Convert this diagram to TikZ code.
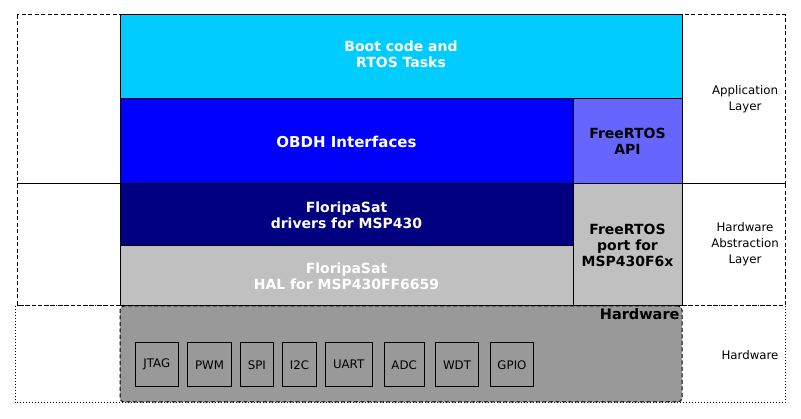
\documentclass[tikz,border=0pt]{standalone}
\usepackage{fontspec}
\setmainfont{DejaVu Sans}
\usetikzlibrary{positioning}

\definecolor{bootblue}{HTML}{00CCFF}
\definecolor{obdhblue}{HTML}{0000FF}
\definecolor{apiblue}{HTML}{6666FF}
\definecolor{drvnavy}{HTML}{000080}
\definecolor{halgray}{HTML}{C0C0C0}
\definecolor{hwgray}{HTML}{999999}

\begin{document}
\begin{tikzpicture}[x=1pt,y=-1pt,line width=1pt,
        longdash/.style={dash pattern=on 4pt off 2.5pt},
        block/.style={draw,anchor=north west,inner sep=0pt,outer sep=0pt,align=center,
          font=\bfseries\fontsize{14}{16}\selectfont},
        periph/.style={draw,fill=hwgray,minimum height=43.5pt,inner sep=0pt,outer sep=0pt,
          font=\fontsize{11.8}{13}\selectfont},
        layer/.style={align=center,font=\fontsize{11.8}{16}\selectfont}]

  \useasboundingbox (0,0) rectangle (801,419);

  % layer frames
  \draw[dotted] (15,306) rectangle (785,403);
  \draw[longdash] (17,15) rectangle (785,184);
  \draw[longdash] (17,184) rectangle (785,306);
  \draw (17,184) -- (785,184);

  % application layer
  \node[block,fill=bootblue,text=white,minimum width=562pt,minimum height=84pt,
    text depth=6pt] (boot) at (120,15) {Boot code and\\RTOS Tasks};
  \node[block,fill=obdhblue,text=white,minimum width=453pt,minimum height=85pt,
    font=\bfseries\fontsize{15}{17}\selectfont]
    (obdh) at (120,99) {OBDH Interfaces};
  \node[block,fill=apiblue,minimum width=109pt,minimum height=85pt]
    (api) at (573,99) {FreeRTOS\\API};

  % hardware abstraction layer
  \node[block,fill=drvnavy,text=white,minimum width=453pt,minimum height=62pt]
    (drv) at (120,184) {FloripaSat\\drivers for MSP430};
  \node[block,fill=halgray,text=white,minimum width=453pt,minimum height=60pt]
    (hal) at (120,246) {FloripaSat\\HAL for MSP430FF6659};
  \node[block,fill=halgray,minimum width=109pt,minimum height=122pt]
    (port) at (573,184) {FreeRTOS\\port for\\MSP430F6x};

  % hardware
  \node[block,fill=hwgray,longdash,rounded corners=4pt,minimum width=562pt,
    minimum height=96pt] (hw) at (120,306) {};
  \node[anchor=north east,inner sep=2pt,font=\bfseries\fontsize{14.5}{16}\selectfont]
    (hwtitle) at (hw.north east) {Hardware};

  \node[periph,anchor=north west,minimum width=43.7pt] (jtag) at (135,343) {JTAG};
  \node[periph,minimum width=44.4pt,right=8.6pt of jtag] (pwm) {PWM};
  \node[periph,minimum width=33.7pt,right=8.3pt of pwm] (spi) {SPI};
  \node[periph,minimum width=34.4pt,right=8.6pt of spi] (i2c) {I2C};
  \node[periph,minimum width=47.3pt,right=8.3pt of i2c] (uart) {UART};
  \node[periph,minimum width=40.3pt,right=11.7pt of uart] (adc) {ADC};
  \node[periph,minimum width=43.4pt,right=11pt of adc] (wdt) {WDT};
  \node[periph,minimum width=43.4pt,right=11.6pt of wdt] (gpio) {GPIO};

  % layer names
  \node[layer] (applabel) at (745,99) {Application\\Layer};
  \node[layer] (hallabel) at (745,244) {Hardware\\Abstraction\\Layer};
  \node[layer] (hwlabel) at (750,355) {Hardware};

\end{tikzpicture}
\end{document}
